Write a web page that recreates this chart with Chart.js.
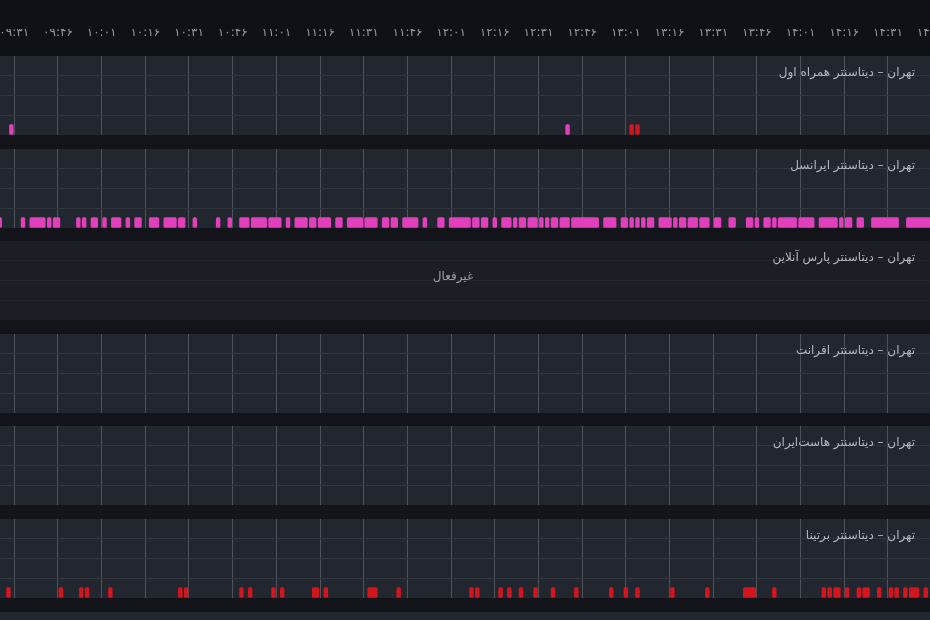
<!DOCTYPE html>
<html lang="fa">
<head>
<meta charset="utf-8">
<script src="https://cdn.jsdelivr.net/npm/chart.js@4.4.1/dist/chart.umd.min.js"></script>
<style>
  html, body { margin: 0; padding: 0; background: #121419; }
  #board { position: relative; width: 930px; height: 620px; overflow: hidden; background: #121419; font-family: "DejaVu Sans", sans-serif; }
  #header { position: absolute; left: 0; top: 0; width: 930px; height: 56px; background: #0e1116; }
  #header canvas { position: absolute; left: 0; top: 0; }
  .panel { position: absolute; left: 0; width: 930px; height: 79px; background: #22262e; }
  .panel.off { background: #1b1e25; }
  .panel canvas { position: absolute; left: 0; top: 0; }
  .title { position: absolute; right: 15px; top: 9px; direction: rtl; color: #b3b7be; font-size: 12px; white-space: nowrap; }
  .state { position: absolute; left: 453px; top: 28px; transform: translateX(-50%); direction: rtl; color: #9a9ea6; font-size: 12px; white-space: nowrap; }
</style>
</head>
<body>
<div id="board">
  <div id="header"><canvas id="axisChart" width="930" height="56"></canvas></div>
</div>
<script>
// time axis labels (every 15 minutes)
const tickTimes = ['09:31', '09:46', '10:01', '10:16', '10:31', '10:46', '11:01', '11:16', '11:31', '11:46',
  '12:01', '12:16', '12:31', '12:46', '13:01', '13:16', '13:31', '13:46', '14:01', '14:16', '14:31', '14:46'];

const panelNames = [
  'تهران – دیتاسنتر همراه اول',
  'تهران – دیتاسنتر ایرانسل',
  'تهران – دیتاسنتر پارس آنلاین',
  'تهران – دیتاسنتر افرانت',
  'تهران – دیتاسنتر هاست‌ایران',
  'تهران – دیتاسنتر برتینا'
];
const panelActive = [true, true, false, true, true, true];
const inactiveText = 'غیرفعال';

// events per data center: single minute 'HH:MM' or range ['HH:MM', 'HH:MM']
const hamrahAvalLoss = ['09:30', '12:41'];
const hamrahAvalDown = ['13:03', '13:05'];

const irancellLoss = ['09:26', '09:34', ['09:37', '09:39'], ['09:40', '09:41'], '09:43', ['09:45', '09:46'], '09:53', '09:55',
  ['09:58', '09:59'], '10:02', ['10:05', '10:07'], '10:10', '10:13', '10:14', ['10:18', '10:20'], ['10:23', '10:26'],
  ['10:28', '10:29'], '10:33', '10:41', '10:45', ['10:49', '10:51'], ['10:53', '10:57'], ['10:59', '11:02'], '11:05',
  ['11:08', '11:11'], ['11:13', '11:14'], ['11:16', '11:19'], ['11:22', '11:23'], ['11:26', '11:30'], ['11:32', '11:35'],
  ['11:38', '11:39'], ['11:41', '11:42'], ['11:45', '11:49'], '11:52', ['11:57', '11:58'], ['12:01', '12:07'],
  ['12:09', '12:10'], ['12:12', '12:13'], '12:16', ['12:19', '12:21'], '12:23', ['12:25', '12:26'], ['12:28', '12:30'],
  '12:32', '12:34', ['12:36', '12:37'], ['12:39', '12:41'], ['12:43', '12:51'], ['12:54', '12:57'], '13:00', '13:01',
  '13:03', '13:05', '13:07', ['13:09', '13:10'], ['13:13', '13:15'], '13:16', '13:18', ['13:20', '13:21'], ['13:23', '13:25'],
  '13:27', ['13:28', '13:29'], ['13:32', '13:33'], ['13:37', '13:38'], ['13:43', '13:44'], '13:46', ['13:49', '13:50'],
  '13:52', ['13:54', '13:59'], ['14:01', '14:05'], ['14:08', '14:13'], '14:15', ['14:17', '14:18'], ['14:21', '14:22'],
  ['14:26', '14:34'], ['14:38', '14:45']];
const irancellDown = [];

const parsOnlineLoss = [];
const parsOnlineDown = [];

const afranetLoss = [];
const afranetDown = [];

const hostiranLoss = [];
const hostiranDown = [];

const bertinaLoss = [];
const bertinaDown = ['09:29', '09:47', '09:54', '09:56', '10:04', '10:28', '10:30', '10:49', '10:52', '11:00', '11:03',
  ['11:14', '11:15'], '11:18', ['11:33', '11:35'], '11:43', '12:08', '12:10', '12:18', '12:21', '12:25', '12:30', '12:36',
  '12:44', '12:56', '13:01', '13:05', '13:17', '13:29', ['13:42', '13:45'], '13:52', '14:09', '14:11', ['14:13', '14:14'],
  '14:17', '14:21', ['14:23', '14:24'], '14:28', '14:32', '14:34', '14:37', ['14:39', '14:41'], '14:44'];

const lossSeries = [hamrahAvalLoss, irancellLoss, parsOnlineLoss, afranetLoss, hostiranLoss, bertinaLoss];
const downSeries = [hamrahAvalDown, irancellDown, parsOnlineDown, afranetDown, hostiranDown, bertinaDown];

const X_MIN = 566.1;
const X_MAX = 885.45;
const BAR_PAD = 0.65;
const BAR_Y = 0.28;

function toMin(t) {
  const p = t.split(':');
  return parseInt(p[0], 10) * 60 + parseInt(p[1], 10);
}
function faDigits(s) {
  return s.replace(/[0-9]/g, d => '۰۱۲۳۴۵۶۷۸۹'[d]);
}
function toBars(list) {
  return list.map(ev => {
    const r = Array.isArray(ev) ? ev : [ev, ev];
    return { x: [toMin(r[0]) - BAR_PAD, toMin(r[1]) + BAR_PAD], y: BAR_Y };
  });
}
function setTimeTicks(axis) {
  axis.ticks = tickTimes.map(t => ({ value: toMin(t) }));
}

// header time axis
new Chart(document.getElementById('axisChart'), {
  type: 'line',
  data: { datasets: [] },
  options: {
    responsive: false,
    animation: false,
    events: [],
    layout: { padding: { top: 29, left: 0, right: 0, bottom: 0 }, autoPadding: false },
    plugins: { legend: { display: false }, tooltip: { enabled: false } },
    scales: {
      x: {
        type: 'linear', position: 'top', min: X_MIN, max: X_MAX,
        afterBuildTicks: setTimeTicks,
        // labels at the edges are cut off by the window, like in the dashboard
        afterFit: s => { s.paddingLeft = 0; s.paddingRight = 0; },
        ticks: {
          autoSkip: false, maxRotation: 0, minRotation: 0, padding: 2, color: '#969aa2',
          font: { size: 12, family: 'DejaVu Sans' },
          callback: (v, i) => faDigits(tickTimes[i] || '')
        },
        grid: { display: false, drawTicks: false },
        border: { display: false }
      },
      y: { display: false, min: 0, max: 1 }
    }
  }
});

// one panel per data center
const board = document.getElementById('board');
const PANEL_TOP = 56;
const PANEL_STEP = 92.6;

function hGridColor(active) {
  return ctx => {
    const v = ctx.tick ? ctx.tick.value : 0;
    if (v <= 0 || v >= 4) return 'rgba(0,0,0,0)';
    return active ? '#30353e' : '#23262d';
  };
}

panelNames.forEach((name, i) => {
  const active = panelActive[i];
  const panel = document.createElement('div');
  panel.className = 'panel' + (active ? '' : ' off');
  panel.style.top = (PANEL_TOP + i * PANEL_STEP) + 'px';
  const canvas = document.createElement('canvas');
  canvas.width = 930;
  canvas.height = 79;
  panel.appendChild(canvas);
  const title = document.createElement('div');
  title.className = 'title';
  title.textContent = name;
  panel.appendChild(title);
  if (!active) {
    const state = document.createElement('div');
    state.className = 'state';
    state.textContent = inactiveText;
    panel.appendChild(state);
  }
  board.appendChild(panel);

  new Chart(canvas, {
    type: 'bar',
    data: {
      datasets: [
        { label: 'loss', data: toBars(lossSeries[i]), backgroundColor: '#e23fbd' },
        { label: 'down', data: toBars(downSeries[i]), backgroundColor: '#d3151d' }
      ]
    },
    options: {
      indexAxis: 'y',
      responsive: false,
      animation: false,
      events: [],
      layout: { padding: 0, autoPadding: false },
      plugins: { legend: { display: false }, tooltip: { enabled: false } },
      datasets: { bar: { barThickness: 10, grouped: false, borderRadius: 1.5, borderSkipped: false } },
      scales: {
        x: {
          type: 'linear', min: X_MIN, max: X_MAX,
          afterBuildTicks: setTimeTicks,
          ticks: { display: false },
          grid: { display: active, color: '#4d525b', drawTicks: false },
          border: { display: false }
        },
        y: {
          type: 'linear', min: 0, max: 4, offset: false,
          ticks: { display: false, stepSize: 1 },
          grid: { color: hGridColor(active), drawTicks: false, offset: false },
          border: { display: false }
        }
      }
    }
  });
});

// next panel peeking in at the bottom
const tail = document.createElement('div');
tail.className = 'panel';
tail.style.top = (PANEL_TOP + panelNames.length * PANEL_STEP) + 'px';
board.appendChild(tail);
</script>
</body>
</html>
